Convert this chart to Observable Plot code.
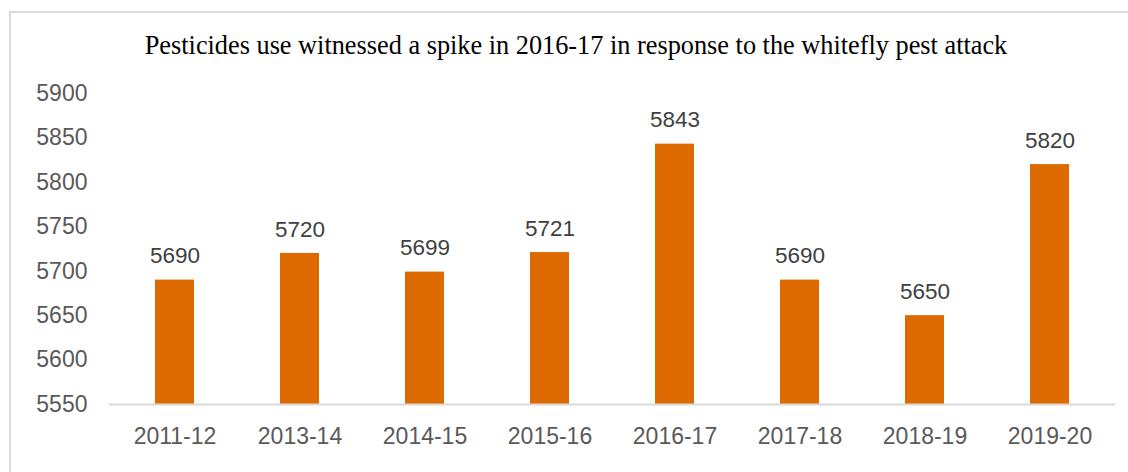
<!DOCTYPE html>
<html>
<head>
<meta charset="utf-8">
<script src="https://cdn.jsdelivr.net/npm/d3@7"></script>
<script src="https://cdn.jsdelivr.net/npm/@observablehq/plot@0.6"></script>
<style>
  html, body { margin: 0; padding: 0; background: #fff; }
  #wrap { position: relative; width: 1128px; height: 472px; overflow: hidden; }
  #frame { position: absolute; left: 9px; top: 11px; width: 1200px; height: 600px;
           border-left: 2px solid #d9d9d9; border-top: 2px solid #d9d9d9; box-sizing: border-box; }
  #title { position: absolute; left: 0; width: 1152px; top: 31px; text-align: center;
           font-family: "Liberation Serif", "Times New Roman", serif; font-size: 26.3px; color: #000; }
  #chart { position: absolute; left: 0; top: 0; }
</style>
</head>
<body>
<div id="wrap">
  <div id="frame"></div>
  <div id="chart"></div>
  <div id="title">Pesticides use witnessed a spike in 2016-17 in response to the whitefly pest attack</div>
</div>
<script>
const years = ["2011-12", "2013-14", "2014-15", "2015-16", "2016-17", "2017-18", "2018-19", "2019-20"];
const values = [5690, 5720, 5699, 5721, 5843, 5690, 5650, 5820];
const yTicks = [5550, 5600, 5650, 5700, 5750, 5800, 5850, 5900];

const data = years.map((year, i) => ({year, value: values[i]}));

const chart = Plot.plot({
  width: 1128,
  height: 472,
  marginLeft: 109,
  marginRight: 13,
  marginTop: 93,
  marginBottom: 68,
  style: {fontFamily: "'Liberation Sans', Arial, sans-serif", fontSize: "23px", background: "transparent"},
  x: {domain: years, paddingInner: 0.69, paddingOuter: 0.345, label: null},
  y: {domain: [5550, 5900], label: null},
  marks: [
    Plot.barY(data, {x: "year", y1: 5550, y2: "value", fill: "#dd6a00"}),
    Plot.ruleY([5550], {stroke: "#d9d9d9", strokeWidth: 2}),
    Plot.text(data, {x: "year", y: "value", text: d => String(d.value), dy: -24,
      fill: "#404040", fontSize: 22.5}),
    Plot.axisY({ticks: yTicks, tickSize: 0, tickPadding: 22, color: "#595959", label: null, tickFormat: d => String(d)}),
    Plot.axisX({tickSize: 0, tickPadding: 23, color: "#595959", label: null})
  ]
});
document.getElementById("chart").appendChild(chart);
</script>
</body>
</html>
